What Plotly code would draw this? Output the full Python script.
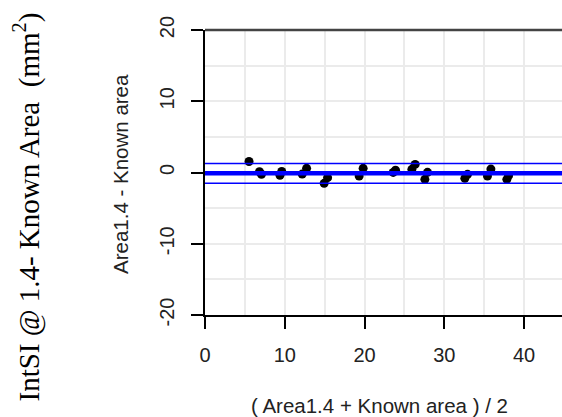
import plotly.graph_objects as go

# Bland-Altman data: mean of the two measurements vs. their difference
mean_area = [5.52, 6.83, 7.08, 9.40, 9.62, 12.19, 12.74, 14.94, 15.37,
             19.33, 19.83, 23.60, 23.89, 25.94, 26.35, 27.57, 27.90,
             32.58, 32.92, 35.42, 35.85, 37.85, 38.06]
diff_area = [1.54, 0.11, -0.24, -0.38, 0.14, -0.22, 0.58, -1.52, -0.72,
             -0.50, 0.58, 0.01, 0.32, 0.44, 1.14, -0.96, 0.02,
             -0.82, -0.26, -0.50, 0.48, -0.96, -0.44]

bias = -0.12
upper_loa = 1.26
lower_loa = -1.50

x_ticks = [0, 10, 20, 30, 40]
y_ticks = [-20, -10, 0, 10, 20]

W, H = 562, 417
L, R, T, B = 205, 0, 30, 102
plot_w = W - L - R
plot_h = H - T - B

sans = "Liberation Sans, Arial, sans-serif"
serif = "Liberation Serif, Times New Roman, serif"
grid_col = "#ebebeb"

fig = go.Figure()

fig.add_trace(go.Scatter(
    x=mean_area, y=diff_area, mode="markers",
    marker=dict(color="black", size=9, line=dict(width=0)),
    showlegend=False, hoverinfo="x+y",
))

# bias and limits of agreement
for val, w in [(bias, 4.5), (upper_loa, 1.5), (lower_loa, 1.5)]:
    fig.add_shape(type="line", xref="paper", x0=0, x1=1, yref="y",
                  y0=val, y1=val, line=dict(color="#0000ff", width=w),
                  layer="above")

# top border of the plot box
fig.add_shape(type="line", xref="paper", x0=0, x1=1, yref="paper",
              y0=1, y1=1, line=dict(color="#444444", width=2.5))

axis_common = dict(
    showline=True, linecolor="black", linewidth=1.5,
    ticks="outside", ticklen=12, tickwidth=1.5, tickcolor="black",
    showgrid=True, gridcolor=grid_col, gridwidth=2,
    minor=dict(dtick=5, showgrid=True, gridcolor=grid_col, gridwidth=2,
               ticks=""),
    zeroline=False,
    tickfont=dict(family=sans, size=20, color="#222222"),
)

fig.update_xaxes(range=[0, plot_w / 7.975], tickvals=x_ticks,
                 ticktext=[str(v) for v in x_ticks],
                 ticklabelstandoff=9, **axis_common)
fig.update_yaxes(range=[-20, 20], tickvals=y_ticks,
                 ticktext=[str(v) for v in y_ticks], tickangle=-90,
                 ticklabelstandoff=9, **axis_common)

fig.add_annotation(text="Area1.4 - Known area", xref="paper", yref="paper",
                   x=(120 - L) / plot_w, y=(T + plot_h - 174) / plot_h,
                   xanchor="center", yanchor="middle", textangle=-90,
                   showarrow=False,
                   font=dict(family=sans, size=20.5, color="#222222"))
fig.add_annotation(text="( Area1.4 + Known area ) / 2", xref="paper",
                   yref="paper", x=(379 - L) / plot_w,
                   y=(T + plot_h - 405) / plot_h,
                   xanchor="center", yanchor="middle", showarrow=False,
                   font=dict(family=sans, size=20.5, color="#222222"))
fig.add_annotation(text="IntSI @ 1.4- Known Area  (mm<sup>2</sup>)",
                   xref="paper", yref="paper",
                   x=(27 - L) / plot_w, y=(T + plot_h - 207.5) / plot_h,
                   xanchor="center", yanchor="middle", textangle=-90,
                   showarrow=False,
                   font=dict(family=serif, size=29, color="black"))

fig.update_layout(
    width=W, height=H,
    margin=dict(l=L, r=R, t=T, b=B, pad=0),
    paper_bgcolor="white", plot_bgcolor="white",
    showlegend=False,
)

fig.write_html("out.html")
